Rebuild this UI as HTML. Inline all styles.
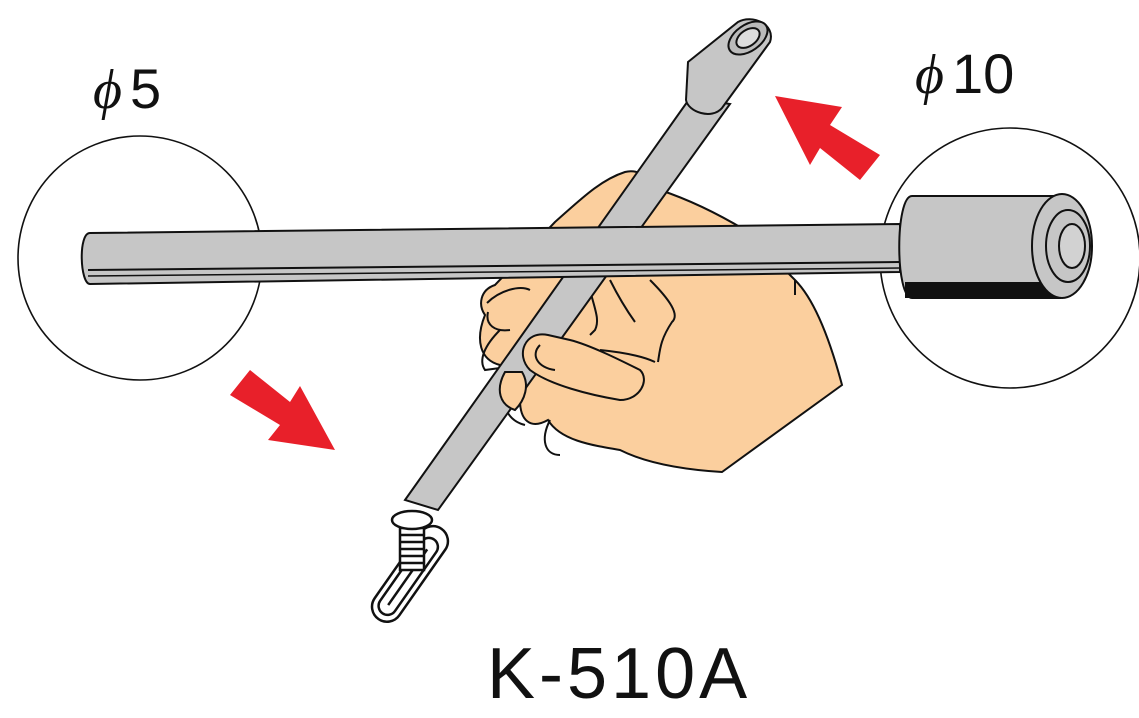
<!DOCTYPE html>
<html><head><meta charset="utf-8"><style>
html,body{margin:0;padding:0;background:#fff;}
svg{display:block;}
</style></head><body>
<svg width="1139" height="718" viewBox="0 0 1139 718" xmlns="http://www.w3.org/2000/svg">
<g stroke="#111" stroke-width="2.2" fill="none">
<circle cx="140" cy="258" r="122" stroke-width="1.6"/>
<circle cx="1010" cy="258" r="130" stroke-width="1.6"/>
</g>
<text x="93" y="108" font-family="Liberation Serif, serif" font-style="italic" font-size="56" fill="#111">ϕ</text>
<text x="130" y="108" font-family="Liberation Sans, sans-serif" font-size="56" fill="#111">5</text>
<text x="915" y="93" font-family="Liberation Serif, serif" font-style="italic" font-size="56" fill="#111">ϕ</text>
<text x="952" y="93" font-family="Liberation Sans, sans-serif" font-size="56" fill="#111">10</text>

<!-- hand back -->
<path d="M555,222 C580,200 600,180 625,172 C640,168 652,180 660,190 C690,200 720,215 745,230 L795,280 C815,300 830,340 842,385 L722,472 C690,470 650,465 620,450 C590,445 560,440 548,420 C530,430 520,420 520,400 C505,400 495,380 500,365 C480,360 475,340 485,315 C478,305 480,290 495,285 Z" fill="#fbcf9e" stroke="#111" stroke-width="2"/>
<g fill="none" stroke="#111" stroke-width="2">
<path d="M487,303 C500,290 520,285 530,290"/>
<path d="M488,312 C485,325 495,332 510,330"/>
<path d="M500,330 C485,345 478,360 485,370 L500,368"/>
<path d="M505,383 C500,400 505,420 525,425"/>
<path d="M550,420 C540,440 545,455 560,455"/>
<path d="M610,280 C620,300 630,315 635,322"/>
<path d="M650,280 C670,300 680,315 672,322 C660,340 660,350 658,362"/>
<path d="M590,290 C595,310 600,320 595,330 L590,335"/>
<path d="M795,280 L795,295"/>
</g>

<!-- diagonal rod (behind horizontal rod) -->
<g>
<polygon points="690,98 730,104 438,510 405,500" fill="#c6c6c6" stroke="#111" stroke-width="2"/>
<path d="M688,62 L738,22 C752,14 776,24 770,42 L722,108 C712,120 688,112 686,100 Z" fill="#c6c6c6" stroke="#111" stroke-width="2"/>
<ellipse cx="748" cy="38" rx="22" ry="13" transform="rotate(-35 748 38)" fill="#bbb" stroke="#111" stroke-width="2"/>
<ellipse cx="748" cy="38" rx="13" ry="8" transform="rotate(-35 748 38)" fill="#ddd" stroke="#111" stroke-width="2"/>
</g>

<!-- horizontal rod -->
<path d="M90,233 L900,224 L900,272 L90,284 C80,284 78,233 90,233 Z" fill="#c6c6c6" stroke="#111" stroke-width="2"/>
<path d="M88,270 L900,262" stroke="#111" stroke-width="2"/>
<path d="M88,276 L900,268" stroke="#111" stroke-width="1.5"/>
<path d="M912,196 L1060,196 L1060,298 L912,298 C895,298 895,196 912,196 Z" fill="#c6c6c6" stroke="#111" stroke-width="2"/>
<rect x="905" y="282" width="155" height="16" fill="#111"/>
<ellipse cx="1062" cy="246" rx="30" ry="52" fill="#c6c6c6" stroke="#111" stroke-width="2"/>
<ellipse cx="1068" cy="246" rx="22" ry="36" fill="#c6c6c6" stroke="#111" stroke-width="2"/>
<ellipse cx="1072" cy="246" rx="13" ry="22" fill="#d2d2d2" stroke="#111" stroke-width="2"/>

<!-- thumb -->
<path d="M548,335 C525,330 515,355 530,370 C550,385 590,395 620,400 C640,400 650,380 640,370 C620,360 590,345 570,340 Z" fill="#fbcf9e" stroke="#111" stroke-width="2"/>
<path d="M540,345 C530,355 538,368 555,370" fill="none" stroke="#111" stroke-width="2"/>
<path d="M600,350 C620,352 640,355 655,362" fill="none" stroke="#111" stroke-width="2"/>
<path d="M505,372 C495,390 500,405 515,410 C525,400 530,385 522,372 Z" fill="#fbcf9e" stroke="#111" stroke-width="2"/>

<!-- red arrows -->
<polygon points="230,395 250,370 290,402 300,386 335,450 268,440 280,425" fill="#e8202a"/>
<polygon points="880,155 860,180 820,148 810,165 775,96 842,107 830,125" fill="#e8202a"/>

<!-- paperclip & screw -->
<g fill="none" stroke="#111" stroke-width="2.5" transform="rotate(-55 408 575)">
<rect x="355" y="561" width="110" height="30" rx="15" fill="#fff"/>
<rect x="362" y="567" width="90" height="18" rx="9"/>
<path d="M372,576 L440,576"/>
</g>
<g fill="#fff" stroke="#111" stroke-width="2.5">
<rect x="400" y="528" width="24" height="42"/>
<path d="M400,535 h24 M400,542 h24 M400,549 h24 M400,556 h24 M400,563 h24"/>
<ellipse cx="412" cy="520" rx="20" ry="9"/>
</g>

<text x="487" y="698" font-family="Liberation Sans, sans-serif" font-size="72" fill="#111" letter-spacing="4">K-510A</text>
</svg>
</body></html>
